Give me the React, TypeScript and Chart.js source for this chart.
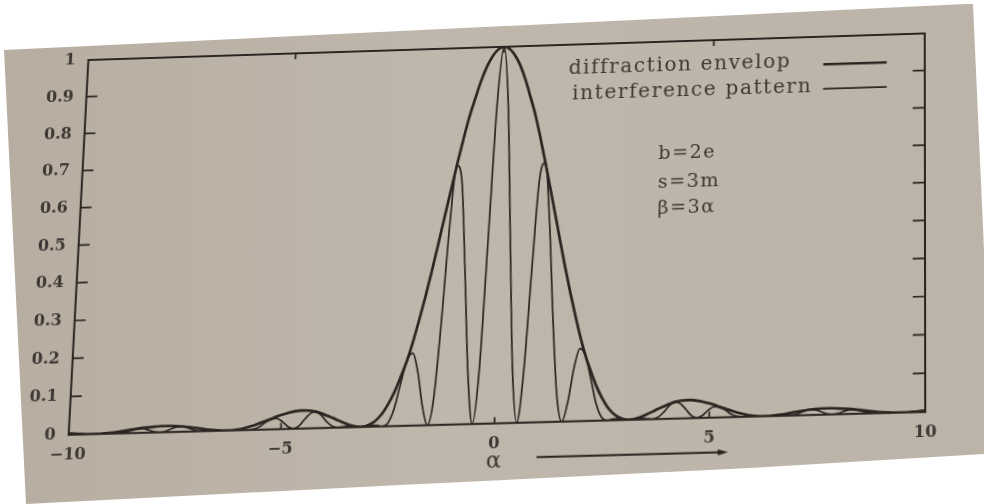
import React, { useEffect, useRef } from 'react';
import { Chart, registerables } from 'chart.js';

Chart.register(...registerables);

// ---- data ----
const alpha = [
  -10,
  -9.95, -9.82, -9.69, -9.56, -9.42, -9.29, -9.16, -9.03, -8.90, -8.77,
  -8.64, -8.51, -8.38, -8.25, -8.12, -7.98, -7.85, -7.72, -7.59, -7.46,
  -7.33, -7.20, -7.07, -6.94, -6.81, -6.68, -6.54, -6.41, -6.28, -6.15,
  -6.02, -5.89, -5.76, -5.63, -5.50, -5.37, -5.24, -5.11, -4.97, -4.84,
  -4.71, -4.58, -4.45, -4.32, -4.19, -4.06, -3.93, -3.80, -3.67, -3.53,
  -3.40, -3.27, -3.14, -3.01, -2.88, -2.75, -2.62, -2.49, -2.36, -2.23,
  -2.09, -1.96, -1.83, -1.70, -1.57, -1.44, -1.31, -1.18, -1.05, -0.92,
  -0.79, -0.65, -0.52, -0.39, -0.26, -0.13,
  0,
  0.13, 0.26, 0.39, 0.52, 0.65, 0.79,
  0.92, 1.05, 1.18, 1.31, 1.44, 1.57, 1.70, 1.83, 1.96, 2.09,
  2.23, 2.36, 2.49, 2.62, 2.75, 2.88, 3.01, 3.14, 3.27, 3.40,
  3.53, 3.67, 3.80, 3.93, 4.06, 4.19, 4.32, 4.45, 4.58, 4.71,
  4.84, 4.97, 5.11, 5.24, 5.37, 5.50, 5.63, 5.76, 5.89, 6.02,
  6.15, 6.28, 6.41, 6.54, 6.68, 6.81, 6.94, 7.07, 7.20, 7.33,
  7.46, 7.59, 7.72, 7.85, 7.98, 8.12, 8.25, 8.38, 8.51, 8.64,
  8.77, 8.90, 9.03, 9.16, 9.29, 9.42, 9.56, 9.69, 9.82, 9.95,
  10,
];

const envelope = [
  0.003,
  0.003, 0.002, 0.001, 0, 0, 0, 0.001, 0.002, 0.003, 0.005,
  0.007, 0.009, 0.011, 0.013, 0.014, 0.015, 0.016, 0.016, 0.016, 0.015,
  0.014, 0.012, 0.010, 0.008, 0.005, 0.003, 0.002, 0, 0, 0,
  0.002, 0.004, 0.008, 0.012, 0.017, 0.022, 0.027, 0.033, 0.038, 0.042,
  0.045, 0.047, 0.047, 0.046, 0.043, 0.038, 0.032, 0.026, 0.019, 0.012,
  0.006, 0.002, 0, 0.002, 0.008, 0.019, 0.036, 0.060, 0.090, 0.127,
  0.171, 0.221, 0.278, 0.339, 0.405, 0.474, 0.545, 0.615, 0.684, 0.750,
  0.811, 0.865, 0.912, 0.950, 0.977, 0.994,
  1,
  0.994, 0.977, 0.950, 0.912, 0.865, 0.811,
  0.750, 0.684, 0.615, 0.545, 0.474, 0.405, 0.339, 0.278, 0.221, 0.171,
  0.127, 0.090, 0.060, 0.036, 0.019, 0.008, 0.002, 0, 0.002, 0.006,
  0.012, 0.019, 0.026, 0.032, 0.038, 0.043, 0.046, 0.047, 0.047, 0.045,
  0.042, 0.038, 0.033, 0.027, 0.022, 0.017, 0.012, 0.008, 0.004, 0.002,
  0, 0, 0, 0.002, 0.003, 0.005, 0.008, 0.010, 0.012, 0.014,
  0.015, 0.016, 0.016, 0.016, 0.015, 0.014, 0.013, 0.011, 0.009, 0.007,
  0.005, 0.003, 0.002, 0.001, 0, 0, 0, 0.001, 0.002, 0.003,
  0.003,
];

const interference = [
  0,
  0, 0, 0, 0, 0, 0, 0, 0, 0, 0.001,
  0.003, 0.007, 0.011, 0.011, 0.007, 0.002, 0, 0.002, 0.008, 0.013,
  0.014, 0.010, 0.005, 0.001, 0, 0, 0.001, 0, 0, 0,
  0.001, 0.001, 0, 0.002, 0.008, 0.019, 0.027, 0.028, 0.019, 0.006,
  0, 0.007, 0.024, 0.039, 0.043, 0.033, 0.016, 0.004, 0, 0.002,
  0.003, 0.001, 0, 0.002, 0.004, 0.003, 0, 0.009, 0.045, 0.108,
  0.171, 0.189, 0.139, 0.050, 0, 0.069, 0.272, 0.525, 0.684, 0.640,
  0.405, 0.127, 0, 0.139, 0.489, 0.849,
  1,
  0.849, 0.489, 0.139, 0, 0.127, 0.405,
  0.640, 0.684, 0.525, 0.272, 0.069, 0, 0.050, 0.139, 0.189, 0.171,
  0.108, 0.045, 0.009, 0, 0.003, 0.004, 0.002, 0, 0.001, 0.003,
  0.002, 0, 0.004, 0.016, 0.033, 0.043, 0.039, 0.024, 0.007, 0,
  0.006, 0.019, 0.028, 0.027, 0.019, 0.008, 0.002, 0, 0.001, 0.001,
  0, 0, 0, 0.001, 0, 0, 0.001, 0.005, 0.010, 0.014,
  0.013, 0.008, 0.002, 0, 0.002, 0.007, 0.011, 0.011, 0.007, 0.003,
  0.001, 0, 0, 0, 0, 0, 0, 0, 0, 0,
  0,
];

const seriesLabels = ['diffraction envelop', 'interference pattern'];
const xTickValues = [-10, -5, 0, 5, 10];
const xTickLabels = ['\u221210', '\u22125', '0', '5', '10'];
const yTickValues = [0, 0.1, 0.2, 0.3, 0.4, 0.5, 0.6, 0.7, 0.8, 0.9, 1];
const yTickLabels = ['0', '0.1', '0.2', '0.3', '0.4', '0.5', '0.6', '0.7', '0.8', '0.9', '1'];
const annotationLines = ['b=2e', 's=3m', '\u03b2=3\u03b1'];
const xAxisTitle = '\u03b1';

// ---- styling / layout ----
const INK = '#2b2521';
const TEXT = '#3e3733';
const SERIF = '"DejaVu Serif", serif';
// where the photographed plot frame sits on the page:
// TL, TR, BR, BL corners, then top/bottom middles (x = 0) and left/right middles (y = 0.5)
const FRAME_TARGETS = [
  [88, 62],
  [924, 31],
  [925, 413],
  [68, 433],
  [506, 46.5],
  [496, 423.5],
  [78, 245],
  [924.5, 222],
];
const PAPER_POLY =
  'polygon(4px 50px, 966px 4px, 973px 4px, 984px 250px, 984px 454px, 750px 468px, 400px 485px, 26px 504px)';

function solveLinear(A: number[][], b: number[]): number[] {
  const n = b.length;
  for (let c = 0; c < n; c++) {
    let p = c;
    for (let r = c + 1; r < n; r++) if (Math.abs(A[r][c]) > Math.abs(A[p][c])) p = r;
    [A[c], A[p]] = [A[p], A[c]];
    [b[c], b[p]] = [b[p], b[c]];
    for (let r = 0; r < n; r++) {
      if (r === c) continue;
      const f = A[r][c] / A[c][c];
      for (let k = c; k < n; k++) A[r][k] -= f * A[c][k];
      b[r] -= f * b[c];
    }
  }
  return b.map((v, i) => v / A[i][i]);
}

// least-squares homography (normalised coordinates)
function fitHomography(src: number[][], dst: number[][]): number[] {
  const S = 1000;
  const rows: number[][] = [];
  const rhs: number[] = [];
  for (let i = 0; i < src.length; i++) {
    const x = src[i][0] / S;
    const y = src[i][1] / S;
    const u = dst[i][0] / S;
    const v = dst[i][1] / S;
    rows.push([x, y, 1, 0, 0, 0, -u * x, -u * y]);
    rhs.push(u);
    rows.push([0, 0, 0, x, y, 1, -v * x, -v * y]);
    rhs.push(v);
  }
  const N: number[][] = Array.from({ length: 8 }, () => new Array(8).fill(0));
  const r: number[] = new Array(8).fill(0);
  rows.forEach((row, k) => {
    for (let i = 0; i < 8; i++) {
      r[i] += row[i] * rhs[k];
      for (let j = 0; j < 8; j++) N[i][j] += row[i] * row[j];
    }
  });
  const h = solveLinear(N, r);
  return [h[0], h[1], h[2] * S, h[3], h[4], h[5] * S, h[6] / S, h[7] / S];
}

const bookPlugin = {
  id: 'bookFigure',
  afterDatasetsDraw(chart: any) {
    const { ctx, chartArea: a, scales } = chart;
    const xs = scales.x;
    const ys = scales.y;
    ctx.save();
    // frame
    ctx.strokeStyle = INK;
    ctx.lineWidth = 2;
    ctx.strokeRect(a.left, a.top, a.right - a.left, a.bottom - a.top);
    // inward ticks
    ctx.lineWidth = 1.7;
    ctx.beginPath();
    yTickValues.forEach((v) => {
      if (v <= 0 || v >= 1) return;
      const y = ys.getPixelForValue(v);
      ctx.moveTo(a.left, y);
      ctx.lineTo(a.left + 11, y);
      ctx.moveTo(a.right, y);
      ctx.lineTo(a.right - 12, y);
    });
    xTickValues.forEach((v) => {
      if (v <= -10 || v >= 10) return;
      const x = xs.getPixelForValue(v);
      ctx.moveTo(x, a.top);
      ctx.lineTo(x, a.top + 6);
      ctx.moveTo(x, a.bottom);
      ctx.lineTo(x, a.bottom - 6);
    });
    ctx.stroke();

    // legend: label on the left, line sample on the right
    const legendTextX = [1.55, 1.65];
    const legendTextY = [0.934, 0.865];
    const legendLineY = [0.925, 0.859];
    ctx.fillStyle = TEXT;
    ctx.textBaseline = 'middle';
    ctx.textAlign = 'left';
    ctx.font = `20px ${SERIF}`;
    (ctx as any).letterSpacing = '1.6px';
    chart.data.datasets.forEach((ds: any, i: number) => {
      ctx.fillText(ds.label, xs.getPixelForValue(legendTextX[i]), ys.getPixelForValue(legendTextY[i]));
      ctx.strokeStyle = ds.borderColor;
      ctx.lineWidth = ds.borderWidth;
      ctx.beginPath();
      const yy = ys.getPixelForValue(legendLineY[i]);
      ctx.moveTo(xs.getPixelForValue(7.6), yy);
      ctx.lineTo(xs.getPixelForValue(9.1), yy);
      ctx.stroke();
    });

    // parameter notes
    ctx.font = `19px ${SERIF}`;
    (ctx as any).letterSpacing = '1.4px';
    const noteY = [0.696, 0.621, 0.552];
    annotationLines.forEach((t, i) => {
      ctx.fillText(t, xs.getPixelForValue(3.72), ys.getPixelForValue(noteY[i]));
    });
    (ctx as any).letterSpacing = '0px';

    // axis title and arrow
    ctx.font = `22px ${SERIF}`;
    ctx.textAlign = 'center';
    ctx.fillText(xAxisTitle, xs.getPixelForValue(0), a.bottom + 37);
    const ay = a.bottom + 34;
    const x0 = xs.getPixelForValue(1.0);
    const x1 = xs.getPixelForValue(5.4);
    ctx.strokeStyle = INK;
    ctx.lineWidth = 2;
    ctx.beginPath();
    ctx.moveTo(x0, ay);
    ctx.lineTo(x1 - 4, ay);
    ctx.stroke();
    ctx.fillStyle = INK;
    ctx.beginPath();
    ctx.moveTo(x1 + 2, ay);
    ctx.lineTo(x1 - 8, ay - 3);
    ctx.lineTo(x1 - 8, ay + 3);
    ctx.closePath();
    ctx.fill();
    ctx.restore();
  },
};

export default function App() {
  const ref = useRef<HTMLCanvasElement | null>(null);

  useEffect(() => {
    const canvas = ref.current!;
    const chart = new Chart(canvas, {
      type: 'scatter',
      data: {
        datasets: [
          {
            label: seriesLabels[0],
            data: alpha.map((x, i) => ({ x, y: envelope[i] })),
            showLine: true,
            borderColor: INK,
            borderWidth: 2.7,
            pointRadius: 0,
            cubicInterpolationMode: 'monotone',
          },
          {
            label: seriesLabels[1],
            data: alpha.map((x, i) => ({ x, y: interference[i] })),
            showLine: true,
            borderColor: INK,
            borderWidth: 1.7,
            pointRadius: 0,
            cubicInterpolationMode: 'monotone',
          },
        ],
      },
      options: {
        responsive: false,
        animation: false,
        devicePixelRatio: 1,
        layout: { padding: { left: 34, right: 58, top: 44, bottom: 44 } },
        plugins: { legend: { display: false }, tooltip: { enabled: false } },
        scales: {
          x: {
            type: 'linear',
            min: -10,
            max: 10,
            afterBuildTicks: (s: any) => {
              s.ticks = xTickValues.map((value) => ({ value }));
            },
            ticks: {
              callback: (v: any) => {
                const i = xTickValues.indexOf(Number(v));
                return i >= 0 ? xTickLabels[i] : '';
              },
              font: { family: SERIF, size: 16, weight: 'bold' },
              color: TEXT,
              padding: 10,
              maxRotation: 0,
              autoSkip: false,
            },
            grid: { display: false, drawTicks: false },
            border: { display: false },
            title: { display: false },
          },
          y: {
            min: 0,
            max: 1,
            afterBuildTicks: (s: any) => {
              s.ticks = yTickValues.map((value) => ({ value }));
            },
            ticks: {
              callback: (v: any) => {
                const i = yTickValues.findIndex((t) => Math.abs(t - Number(v)) < 1e-9);
                return i >= 0 ? yTickLabels[i] : '';
              },
              font: { family: SERIF, size: 16, weight: 'bold' },
              color: TEXT,
              padding: 13,
              autoSkip: false,
            },
            grid: { display: false, drawTicks: false },
            border: { display: false },
          },
        },
      },
      plugins: [bookPlugin],
    } as any);

    const a = chart.chartArea;
    const xs: any = chart.scales.x;
    const ys: any = chart.scales.y;
    const src = [
      [a.left, a.top],
      [a.right, a.top],
      [a.right, a.bottom],
      [a.left, a.bottom],
      [xs.getPixelForValue(0), a.top],
      [xs.getPixelForValue(0), a.bottom],
      [a.left, ys.getPixelForValue(0.5)],
      [a.right, ys.getPixelForValue(0.5)],
    ];
    const h = fitHomography(src, FRAME_TARGETS);
    canvas.style.transformOrigin = '0 0';
    canvas.style.transform = `matrix3d(${h[0]},${h[3]},0,${h[6]},${h[1]},${h[4]},0,${h[7]},0,0,1,0,${h[2]},${h[5]},0,1)`;

    return () => chart.destroy();
  }, []);

  return (
    <div
      style={{
        position: 'fixed',
        left: 0,
        top: 0,
        width: 984,
        height: 504,
        overflow: 'hidden',
        background: '#ffffff',
      }}
    >
      <div
        style={{
          position: 'absolute',
          left: 0,
          top: 0,
          width: 984,
          height: 504,
          clipPath: PAPER_POLY,
          background: 'linear-gradient(90deg, #b7ada1 0%, #c0b7ac 45%, #bdb4a9 100%)',
        }}
      />
      <canvas
        ref={ref}
        width={984}
        height={504}
        style={{ position: 'absolute', left: 0, top: 0, width: 984, height: 504, display: 'block' }}
      />
    </div>
  );
}
